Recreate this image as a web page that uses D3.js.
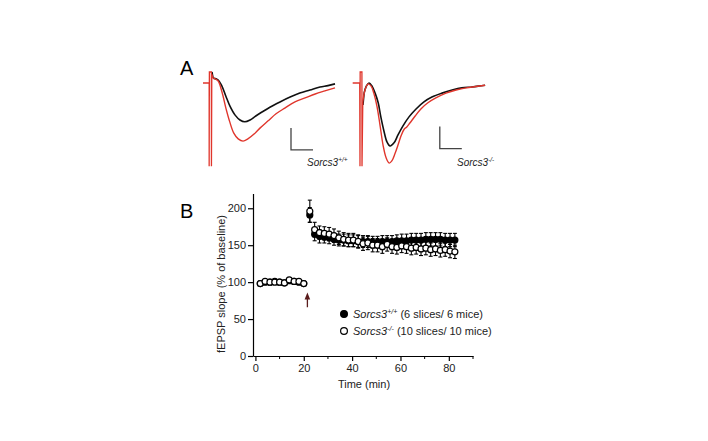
<!DOCTYPE html>
<html><head><meta charset="utf-8">
<script src="https://cdn.jsdelivr.net/npm/d3@7"></script>
<style>body{margin:0;background:#fff}svg{display:block}text{font-family:"Liberation Sans",Arial,sans-serif}</style>
</head><body>
<script>
// ---------- Panel B data ----------
const baseTime = [2,4,6,8,10,12,14,16,18,20];
const wtBase   = [98,100,100,101,100,99,102,101,100,98];
const koBase   = [98,101,100,100,100,99,103,101,101,98];
const baseErr  = [2,2,2,2,2,2,2,2,2,2];
const postTime = [22.5,24.5,26.5,28.5,30.5,32.5,34.5,36.5,38.5,40.5,42.5,44.5,46.5,48.5,50.5,52.5,54.5,56.5,58.5,60.5,62.5,64.5,66.5,68.5,70.5,72.5,74.5,76.5,78.5,80.5,82.5];
const wtPost = [191,165,162,161,160,158,157,157,156,156,155,155,155,154,154,155,155,155,156,156,156,157,157,157,158,158,158,158,157,157,157];
const koPost = [196,171,167,166,165,163,160,158,157,157,155,152,153,150,150,148,151,148,147,149,148,146,147,145,146,144,145,143,144,142,141];
const wtErr  = [10,9,9,8,8,8,8,8,8,8,8,8,8,8,8,8,8,8,8,9,9,9,9,9,9,9,9,9,9,9,9];
const koErr  = [15,10,9,9,9,9,9,9,9,9,9,9,9,9,9,9,9,9,9,9,9,9,9,9,9,9,9,9,9,9,9];
const yTicks = [0,50,100,150,200];
const xTicks = [0,20,40,60,80];
const xMinor = [10,30,50,70,90];
const tetanus = [21.5, 66, 86];   // time, arrow bottom, arrow top (% units)

// ---------- Panel A traces: [time ms, mV] ----------
const artWtRed  = [[0,0],[1.4,0],[1.4,-1.89],[1.45,0.25],[1.9,0.25],[1.92,-1.89],[2.0,0.2],[2.3,0.11]];
const artWtBlk  = [[2.05,0.25],[2.3,0.11]];
const wtBlack = [[2.3,0.11],[3.4,0.07],[4.3,-0.07],[5.2,-0.30],[6.1,-0.52],[7.3,-0.73],[8.4,-0.84],[9.5,-0.88],[10.7,-0.84],[12.0,-0.75],[13.4,-0.66],[15.2,-0.55],[17.5,-0.43],[19.8,-0.32],[22.0,-0.23],[24.3,-0.16],[26.6,-0.09],[28.4,-0.06],[30.0,-0.02]];
const wtRed   = [[2.3,0.11],[3.4,0.05],[4.3,-0.20],[5.2,-0.57],[6.1,-0.89],[7.0,-1.14],[8.0,-1.27],[9.1,-1.32],[10.2,-1.27],[11.6,-1.16],[13.0,-1.02],[14.8,-0.86],[16.6,-0.70],[18.6,-0.57],[20.9,-0.43],[23.2,-0.34],[25.5,-0.25],[27.7,-0.18],[30.0,-0.11]];
const artKoRed  = [[-0.3,0],[1.3,0],[1.36,-1.89],[1.4,0.25],[1.8,0.25],[1.82,-1.89],[2.0,-0.43]];
const artKoBlk  = [[2.05,-0.5],[2.3,-0.23]];
const koBlack = [[2.3,-0.23],[2.8,-0.07],[3.4,0.0],[4.1,-0.07],[4.8,-0.23],[5.5,-0.45],[6.1,-0.77],[6.8,-1.09],[7.5,-1.34],[8.2,-1.43],[9.1,-1.36],[10.0,-1.18],[11.1,-0.98],[12.5,-0.77],[14.1,-0.59],[15.9,-0.43],[17.7,-0.32],[20.0,-0.23],[22.3,-0.16],[24.5,-0.11],[26.8,-0.09],[28.4,-0.07],[29.8,-0.05]];
const koRed   = [[2.0,-0.43],[2.5,-0.16],[3.2,-0.02],[3.9,-0.07],[4.5,-0.23],[5.2,-0.52],[5.9,-0.95],[6.6,-1.41],[7.3,-1.70],[8.0,-1.82],[8.6,-1.77],[9.3,-1.61],[10.0,-1.41],[10.7,-1.20],[11.4,-1.05],[12.0,-1.00],[12.7,-0.91],[13.9,-0.75],[15.2,-0.59],[16.8,-0.45],[18.6,-0.34],[20.9,-0.23],[23.2,-0.16],[25.5,-0.11],[27.7,-0.08],[29.8,-0.05]];
const scaleBarMs = 5, scaleBarMv = 0.5;

const RED = "#e0362c", BLK = "#111";
const svg = d3.select("body").append("svg").attr("width",708).attr("height",441);
svg.append("rect").attr("width",708).attr("height",441).attr("fill","#fff");

// ---------- Panel A ----------
svg.append("text").attr("x",180).attr("y",75).attr("font-size",20).text("A");
const vS = d3.scaleLinear().domain([0,-1]).range([83,127]);
const xL = d3.scaleLinear().domain([0,30]).range([203,335]);
const xR = d3.scaleLinear().domain([0,30]).range([354,486]);
function drawPanel(xs, artR, artB, blk, red, label, sup, lx, sbT, sbV){
  const lin = d3.line().x(d=>xs(d[0])).y(d=>vS(d[1]));
  const smooth = d3.line().x(d=>xs(d[0])).y(d=>vS(d[1])).curve(d3.curveCatmullRom.alpha(0.5));
  svg.append("path").attr("d",lin(artB)).attr("fill","none").attr("stroke",BLK).attr("stroke-width",1.5);
  svg.append("path").attr("d",smooth(blk)).attr("fill","none").attr("stroke",BLK).attr("stroke-width",1.6);
  svg.append("path").attr("d",lin(artR)).attr("fill","none").attr("stroke",RED).attr("stroke-width",1.3);
  svg.append("path").attr("d",smooth(red)).attr("fill","none").attr("stroke",RED).attr("stroke-width",1.4);
  // scale bar
  svg.append("path").attr("d",lin([[sbT,sbV],[sbT,sbV-scaleBarMv],[sbT+scaleBarMs,sbV-scaleBarMv]]))
    .attr("fill","none").attr("stroke","#444").attr("stroke-width",1.3);
  const t = svg.append("text").attr("x",lx).attr("y",166).attr("font-size",10).attr("font-style","italic").attr("fill","#222");
  t.append("tspan").text(label);
  t.append("tspan").attr("dy",-4).attr("font-size",6.5).text(sup);
}
drawPanel(xL, artWtRed, artWtBlk, wtBlack, wtRed, "Sorcs3", "+/+", 307, 20, -1.02);
drawPanel(xR, artKoRed, artKoBlk, koBlack, koRed, "Sorcs3", "-/-", 457, 19.5, -0.99);

// ---------- Panel B ----------
svg.append("text").attr("x",180).attr("y",218).attr("font-size",20).text("B");
const x = d3.scaleLinear().domain([-1,90]).range([253,473]);
const y = d3.scaleLinear().domain([0,220]).range([356,193.5]);
const gy = svg.append("g").attr("transform","translate(253,0)")
  .call(d3.axisLeft(y).tickValues(yTicks).tickSize(5).tickSizeOuter(0).tickPadding(2));
const gx = svg.append("g").attr("transform","translate(0,356)")
  .call(d3.axisBottom(x).tickValues(xTicks).tickSize(5).tickSizeOuter(0).tickPadding(3));
gx.selectAll(".minor").data(xMinor).enter().append("line").attr("class","minor")
  .attr("x1",d=>x(d)).attr("x2",d=>x(d)).attr("y1",0).attr("y2",3).attr("stroke","#000");
[gx,gy].forEach(g=>{
  g.selectAll("text").attr("font-size",11).attr("font-family","Liberation Sans, Arial, sans-serif").attr("fill","#222");
  g.select(".domain").attr("stroke","#000").attr("stroke-width",1.2);
  g.selectAll(".tick line").attr("stroke","#000").attr("stroke-width",1.2);
});
svg.append("text").attr("x",364).attr("y",388).attr("text-anchor","middle").attr("font-size",11).attr("fill","#222").text("Time (min)");
svg.append("text").attr("transform","translate(225,284) rotate(-90)").attr("text-anchor","middle").attr("font-size",11).attr("fill","#222").text("fEPSP slope (% of baseline)");

// tetanus arrow
const ax = x(tetanus[0]);
svg.append("line").attr("x1",ax).attr("x2",ax).attr("y1",y(tetanus[1])).attr("y2",y(tetanus[2])+5).attr("stroke","#5a1c1c").attr("stroke-width",1.3);
svg.append("path").attr("d",`M${ax},${y(tetanus[2])} L${ax-2.8},${y(tetanus[2])+7} L${ax+2.8},${y(tetanus[2])+7} Z`).attr("fill","#5a1c1c");

function series(times, vals, errs, filled){
  const g = svg.append("g");
  const cap = 2;
  times.forEach((t,i)=>{
    const cx = x(t), top = y(vals[i]+errs[i]), bot = y(vals[i]-errs[i]);
    g.append("line").attr("x1",cx).attr("x2",cx).attr("y1",top).attr("y2",bot).attr("stroke","#000").attr("stroke-width",1.1);
    g.append("line").attr("x1",cx-cap).attr("x2",cx+cap).attr("y1",top).attr("y2",top).attr("stroke","#000").attr("stroke-width",1.1);
    g.append("line").attr("x1",cx-cap).attr("x2",cx+cap).attr("y1",bot).attr("y2",bot).attr("stroke","#000").attr("stroke-width",1.1);
  });
  times.forEach((t,i)=>{
    g.append("circle").attr("cx",x(t)).attr("cy",y(vals[i])).attr("r",3)
      .attr("fill",filled?"#000":"#fff").attr("stroke","#000").attr("stroke-width",1.2);
  });
}
series(baseTime, wtBase, baseErr, true);
series(postTime, wtPost, wtErr, true);
series(baseTime, koBase, baseErr, false);
series(postTime, koPost, koErr, false);

// legend
const legend = [
  {filled:true,  sup:"+/+", rest:" (6 slices/ 6 mice)"},
  {filled:false, sup:"-/-", rest:" (10 slices/ 10 mice)"}
];
legend.forEach((d,i)=>{
  const ly = 314 + i*17;
  svg.append("circle").attr("cx",344).attr("cy",ly).attr("r",3.4)
    .attr("fill",d.filled?"#000":"#fff").attr("stroke","#000").attr("stroke-width",1.2);
  const t = svg.append("text").attr("x",353).attr("y",ly+4).attr("font-size",11).attr("fill","#222");
  t.append("tspan").attr("font-style","italic").text("Sorcs3");
  t.append("tspan").attr("font-style","italic").attr("font-size",7).attr("dy",-4).text(d.sup);
  t.append("tspan").attr("dy",4).text(d.rest);
});
</script>
</body></html>
